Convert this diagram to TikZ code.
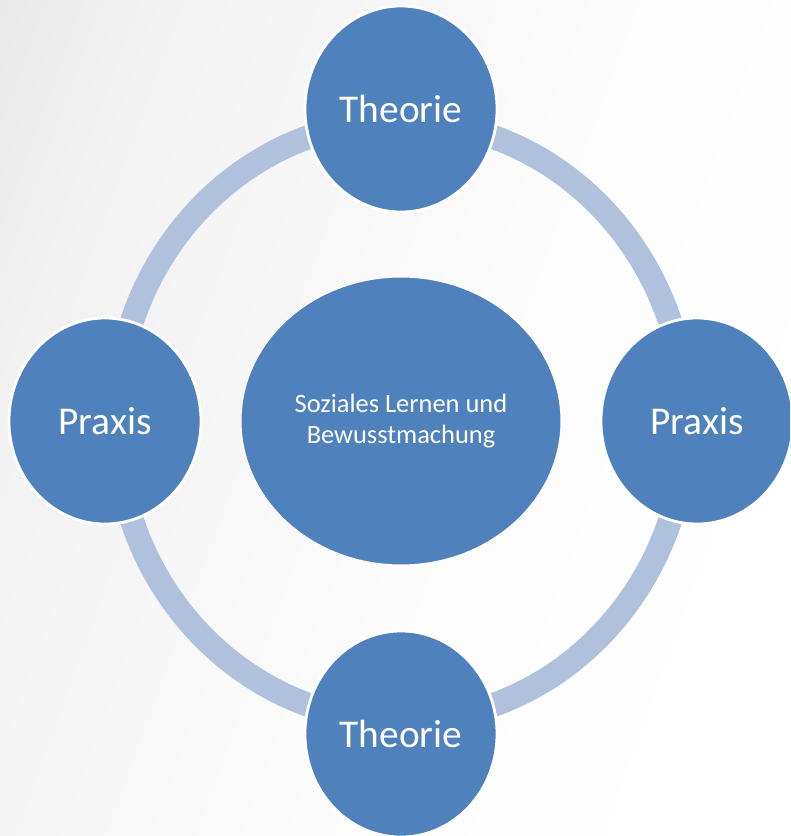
\documentclass[tikz,border=0pt]{standalone}
\usepackage{fontspec}
\setmainfont{Carlito}
\usetikzlibrary{shapes.geometric}
\definecolor{ringblue}{RGB}{176,193,221}
\definecolor{stageblue}{RGB}{79,129,189}
\pgfdeclarehorizontalshading{backdrop}{100bp}{color(0bp)=(black!15); color(28bp)=(black!5); color(55bp)=(black!1); color(75bp)=(white); color(100bp)=(white)}

\begin{document}
\begin{tikzpicture}[x=0.025cm,y=-0.025cm,
  stage/.style={ellipse,fill=stageblue,draw=white,line width=2pt,minimum width=4.8cm,minimum height=5.15cm,inner sep=0pt,text=white,font=\fontsize{28}{32}\selectfont},
  core/.style={ellipse,fill=stageblue,draw=white,line width=0.8pt,minimum width=8cm,minimum height=7.2cm,inner sep=0pt,align=center,text=white,font=\fontsize{18.8}{22.6}\selectfont}]
\useasboundingbox (0,0) rectangle (790,836);
\clip (0,0) rectangle (790,836);
% backdrop: gray on the left, white on the right
\shade[shading=backdrop,shading angle=-20] (0,0) rectangle (790,836);
% ring behind the four stages
\coordinate (mid) at (401,421);
\draw[ringblue,line width=0.6cm] (mid) ellipse [x radius=7.125cm,y radius=7.5cm];
\node[core] (core) at (mid) {Soziales Lernen und\\Bewusstmachung};
% stages round the cycle
\node[stage] (theoTop) at (401,109) {Theorie};
\node[stage] (praxRight) at (697,421) {Praxis};
\node[stage] (theoBottom) at (401,734) {Theorie};
\node[stage] (praxLeft) at (105,421) {Praxis};
\end{tikzpicture}
\end{document}
